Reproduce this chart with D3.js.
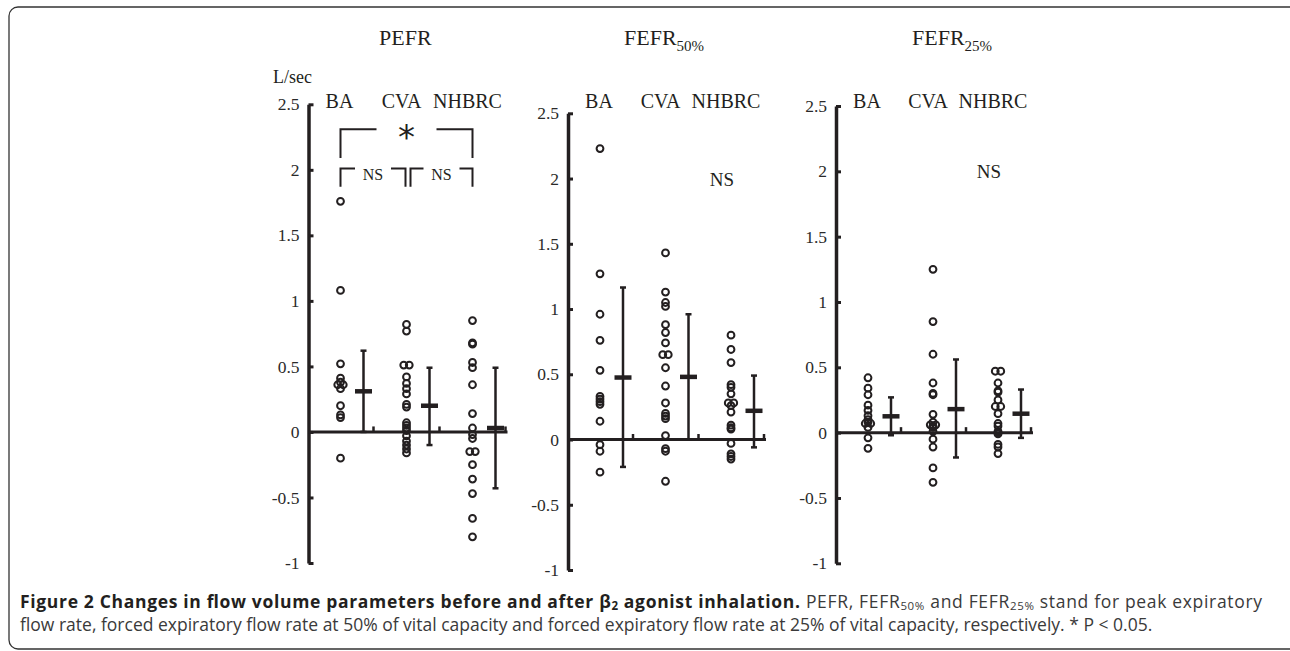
<!DOCTYPE html>
<html>
<head>
<meta charset="utf-8">
<script src="https://cdn.jsdelivr.net/npm/d3@7"></script>
<style>
  body { margin: 0; background: #fff; }
  svg { display: block; }
</style>
</head>
<body>
<div id="chart"></div>
<script>
// groups and tick values
var groups = ["BA", "CVA", "NHBRC"];
var yTicks = [-1, -0.5, 0, 0.5, 1, 1.5, 2, 2.5];

// PEFR individual changes (L/sec)
var pefrBA = [1.76, 1.08, 0.52, 0.41, 0.38, 0.36, 0.36, 0.33, 0.20, 0.13, 0.11, -0.20];
var pefrCVA = [0.82, 0.77, 0.51, 0.51, 0.42, 0.37, 0.33, 0.29, 0.21, 0.19, 0.07, 0.05, 0.03, 0.01, -0.03, -0.07, -0.10, -0.13, -0.16];
var pefrNHBRC = [0.85, 0.68, 0.67, 0.53, 0.49, 0.36, 0.14, 0.03, -0.02, -0.05, -0.15, -0.15, -0.25, -0.36, -0.47, -0.66, -0.80];
var pefrMean = [0.31, 0.20, 0.03];
var pefrHigh = [0.62, 0.49, 0.49];
var pefrLow = [0.00, -0.10, -0.43];

// FEFR50% individual changes
var f50BA = [2.23, 1.27, 0.96, 0.76, 0.53, 0.33, 0.31, 0.29, 0.27, 0.14, -0.04, -0.09, -0.25];
var f50CVA = [1.43, 1.13, 1.05, 1.02, 0.88, 0.82, 0.74, 0.65, 0.65, 0.55, 0.41, 0.28, 0.20, 0.18, 0.16, 0.03, -0.07, -0.09, -0.32];
var f50NHBRC = [0.80, 0.69, 0.59, 0.42, 0.40, 0.35, 0.28, 0.28, 0.26, 0.21, 0.11, 0.09, 0.08, -0.03, -0.11, -0.13, -0.15];
var f50Mean = [0.475, 0.48, 0.22];
var f50High = [1.165, 0.96, 0.49];
var f50Low = [-0.21, 0.00, -0.06];

// FEFR25% individual changes
var f25BA = [0.42, 0.34, 0.29, 0.21, 0.17, 0.13, 0.10, 0.08, 0.07, 0.07, 0.04, -0.04, -0.12];
var f25CVA = [1.25, 0.85, 0.60, 0.38, 0.30, 0.29, 0.14, 0.08, 0.06, 0.06, 0.05, 0.04, 0.01, -0.05, -0.11, -0.27, -0.38];
var f25NHBRC = [0.47, 0.47, 0.38, 0.32, 0.31, 0.25, 0.20, 0.20, 0.145, 0.07, 0.05, 0.01, 0.00, -0.01, -0.09, -0.11, -0.16];
var f25Mean = [0.125, 0.18, 0.145];
var f25High = [0.27, 0.56, 0.33];
var f25Low = [-0.02, -0.19, -0.04];

var panels = [
    { title: "PEFR", sub: "", dots: [pefrBA, pefrCVA, pefrNHBRC], mean: pefrMean, high: pefrHigh, low: pefrLow,
      axisX: 308.5, top: 104.3, bottom: 563, step: 66, titleX: 379 },
    { title: "FEFR", sub: "50%", dots: [f50BA, f50CVA, f50NHBRC], mean: f50Mean, high: f50High, low: f50Low,
      axisX: 568, top: 113.3, bottom: 570, step: 65.5, titleX: 624 },
    { title: "FEFR", sub: "25%", dots: [f25BA, f25CVA, f25NHBRC], mean: f25Mean, high: f25High, low: f25Low,
      axisX: 836, top: 106, bottom: 563.3, step: 65, titleX: 912 }
];

var svgWidth = 1290;
var svgHeight = 651;
var serif = "'Liberation Serif', 'Times New Roman', serif";
var ink = "#231f20";

var svg = d3.select("#chart")
    .append("svg")
    .attr("width", svgWidth)
    .attr("height", svgHeight);

// frame round the figure
svg.append("rect")
    .attr("x", 9)
    .attr("y", 7)
    .attr("width", 1290)
    .attr("height", 642)
    .attr("rx", 9)
    .attr("fill", "none")
    .attr("stroke", "#333")
    .attr("stroke-width", 1.3);

// side-by-side offsets for equal values
function dodge(values) {
    var seen = {};
    var counts = {};
    values.forEach(v => { var k = v.toFixed(2); counts[k] = (counts[k] || 0) + 1; });
    return values.map(v => {
        var k = v.toFixed(2);
        var j = seen[k] || 0;
        seen[k] = j + 1;
        return { v: v, dx: (j - (counts[k] - 1) / 2) * 5.5 };
    });
}

panels.forEach(function (p, pi) {
    var yScale = d3.scaleLinear()
        .domain([-1, 2.5])
        .range([p.bottom, p.top]);

    var xScale = d3.scaleLinear()
        .domain([0, 2])
        .range([p.axisX + 32, p.axisX + 32 + 2 * p.step]);

    var g = svg.append("g");

    // title
    var title = g.append("text")
        .attr("x", p.titleX)
        .attr("y", 45)
        .attr("font-family", serif)
        .attr("font-size", 22)
        .attr("fill", ink)
        .text(p.title);
    if (p.sub) {
        title.append("tspan")
            .attr("dy", 6)
            .attr("font-size", 15)
            .text(p.sub);
    }

    // group names
    g.selectAll(".grp")
        .data(groups)
        .enter()
        .append("text")
        .attr("x", (d, i) => xScale(i) - (i ? 5 : 1))
        .attr("y", 108)
        .attr("text-anchor", "middle")
        .attr("font-family", serif)
        .attr("font-size", 20)
        .attr("fill", ink)
        .text(d => d);

    // y axis
    var leftAxis = d3.axisLeft(yScale)
        .tickValues(yTicks)
        .tickFormat(d3.format("~g"))
        .tickSizeInner(-5)
        .tickSizeOuter(0)
        .tickPadding(9);

    var axisG = g.append("g")
        .attr("transform", `translate(${p.axisX}, 0)`)
        .call(leftAxis);
    axisG.select(".domain").attr("stroke", ink).attr("stroke-width", 3.5);
    axisG.selectAll(".tick line").attr("stroke", ink).attr("stroke-width", 3);
    axisG.selectAll(".tick text")
        .attr("font-family", serif)
        .attr("font-size", 17.5)
        .attr("fill", "#2a2a2a")
        .text(d => d < 0 ? "-" + Math.abs(d) : d);

    // zero line with small ticks
    var y0 = yScale(0);
    g.append("line")
        .attr("x1", p.axisX)
        .attr("x2", xScale(2) + 35)
        .attr("y1", y0)
        .attr("y2", y0)
        .attr("stroke", ink)
        .attr("stroke-width", 3);
    g.selectAll(".xtick")
        .data(groups)
        .enter()
        .append("line")
        .attr("x1", (d, i) => xScale(i) + 33)
        .attr("x2", (d, i) => xScale(i) + 33)
        .attr("y1", y0)
        .attr("y2", y0 - 5.5)
        .attr("stroke", ink)
        .attr("stroke-width", 2.5);

    // individual points
    p.dots.forEach(function (vals, gi) {
        g.selectAll(null)
            .data(dodge(vals))
            .enter()
            .append("circle")
            .attr("cx", d => xScale(gi) + d.dx)
            .attr("cy", d => yScale(d.v))
            .attr("r", 3.4)
            .attr("fill", "none")
            .attr("stroke", ink)
            .attr("stroke-width", 2);
    });

    // mean and SD bars
    var stats = groups.map((d, i) => ({ i: i, mean: p.mean[i], high: p.high[i], low: p.low[i] }));
    var bars = g.selectAll(".bar")
        .data(stats)
        .enter()
        .append("g")
        .attr("transform", d => `translate(${xScale(d.i) + 23}, 0)`);
    bars.append("line")
        .attr("y1", d => yScale(d.low))
        .attr("y2", d => yScale(d.high))
        .attr("stroke", ink)
        .attr("stroke-width", 2.5);
    bars.append("line")
        .attr("x1", -3).attr("x2", 3)
        .attr("y1", d => yScale(d.high))
        .attr("y2", d => yScale(d.high))
        .attr("stroke", ink)
        .attr("stroke-width", 2.5);
    bars.append("line")
        .attr("x1", -3).attr("x2", 3)
        .attr("y1", d => yScale(d.low))
        .attr("y2", d => yScale(d.low))
        .attr("stroke", ink)
        .attr("stroke-width", 2.5);
    bars.append("line")
        .attr("x1", -8.5).attr("x2", 8.5)
        .attr("y1", d => yScale(d.mean))
        .attr("y2", d => yScale(d.mean))
        .attr("stroke", ink)
        .attr("stroke-width", 4.5);

    if (pi === 0) {
        // unit label
        g.append("text")
            .attr("x", 273)
            .attr("y", 83)
            .attr("font-family", serif)
            .attr("font-size", 18)
            .attr("fill", ink)
            .text("L/sec");

        // significance brackets
        var brackets = [
            { x1: xScale(0), x2: xScale(2), top: 2.31, leg: 2.09, label: "*", gap: 30, size: 34 },
            { x1: xScale(0), x2: xScale(1) - 1, top: 2.01, leg: 1.87, label: "NS", gap: 18, size: 16 },
            { x1: xScale(1) + 4, x2: xScale(2), top: 2.01, leg: 1.87, label: "NS", gap: 18, size: 16 }
        ];
        brackets.forEach(function (b) {
            var mid = (b.x1 + b.x2) / 2;
            var yt = yScale(b.top);
            var yl = yScale(b.leg);
            g.append("path")
                .attr("d", `M${b.x1},${yl}V${yt}H${mid - b.gap}M${mid + b.gap},${yt}H${b.x2}V${yl}`)
                .attr("fill", "none")
                .attr("stroke", ink)
                .attr("stroke-width", 2);
            g.append("text")
                .attr("x", mid)
                .attr("y", b.label === "*" ? yt + 20 : yt + 11)
                .attr("text-anchor", "middle")
                .attr("font-family", b.label === "*" ? "'DejaVu Sans', sans-serif" : serif)
                .attr("font-size", b.size)
                .attr("fill", ink)
                .text(b.label);
        });
    } else {
        g.append("text")
            .attr("x", xScale(2) - 9)
            .attr("y", yScale(2) + 7)
            .attr("text-anchor", "middle")
            .attr("font-family", serif)
            .attr("font-size", 19)
            .attr("fill", ink)
            .text("NS");
    }
});

// caption
var sans = "'Open Sans', 'Noto Sans', sans-serif";
var grey = "#3a3a3a";
var capSize = 17.5;
var subSize = 11.5;

var cap1 = svg.append("text")
    .attr("x", 20)
    .attr("y", 608)
    .attr("font-family", sans)
    .attr("font-size", capSize)
    .attr("fill", grey)
    .attr("textLength", 1242)
    .attr("lengthAdjust", "spacing");
cap1.append("tspan").attr("font-weight", "bold").attr("fill", ink)
    .text("Figure 2 Changes in flow volume parameters before and after β");
cap1.append("tspan").attr("font-weight", "bold").attr("fill", ink)
    .attr("font-size", subSize).attr("dy", 2).text("2");
cap1.append("tspan").attr("font-weight", "bold").attr("fill", ink)
    .attr("dy", -2).text(" agonist inhalation.");
cap1.append("tspan").text(" PEFR, FEFR");
cap1.append("tspan").attr("font-size", subSize).attr("dy", 2).text("50%");
cap1.append("tspan").attr("dy", -2).text(" and FEFR");
cap1.append("tspan").attr("font-size", subSize).attr("dy", 2).text("25%");
cap1.append("tspan").attr("dy", -2).text(" stand for peak expiratory");

svg.append("text")
    .attr("x", 20)
    .attr("y", 631)
    .attr("font-family", sans)
    .attr("font-size", capSize)
    .attr("fill", grey)
    .text("flow rate, forced expiratory flow rate at 50% of vital capacity and forced expiratory flow rate at 25% of vital capacity, respectively. * P < 0.05.");
</script>
</body>
</html>
